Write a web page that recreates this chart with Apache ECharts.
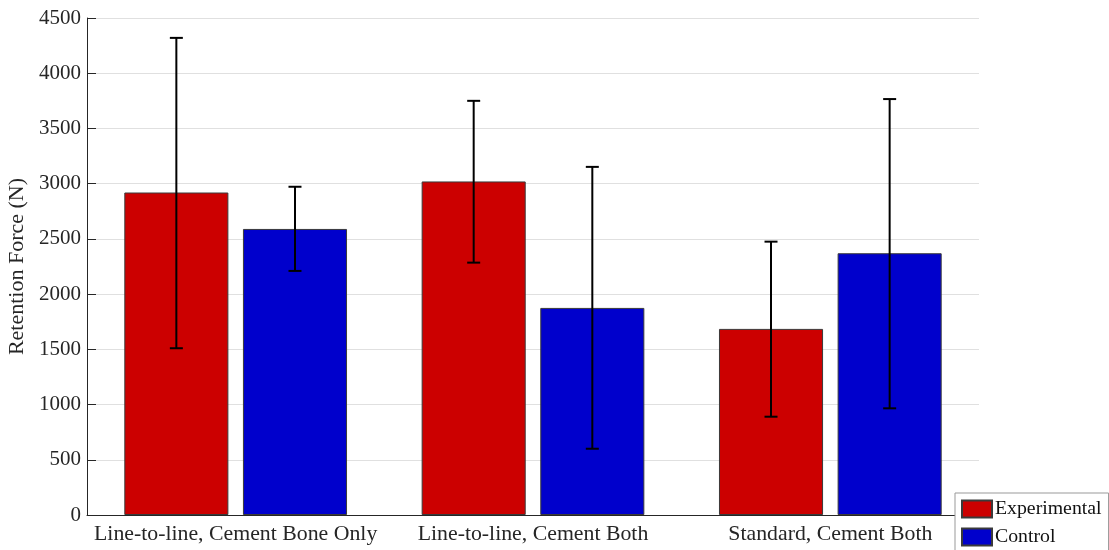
<!DOCTYPE html>
<html>
<head>
<meta charset="utf-8">
<script src="https://cdn.jsdelivr.net/npm/echarts@6/dist/echarts.min.js"></script>
<style>html,body{margin:0;padding:0;background:#fff}#c{width:1109px;height:550px}</style>
</head>
<body>
<div id="c"></div>
<script>
var categories = ['Line-to-line, Cement Bone Only', 'Line-to-line, Cement Both', 'Standard, Cement Both'];
var seriesNames = ['Experimental', 'Control'];
var experimental = [2920, 3020, 1685];
var control = [2590, 1875, 2370];
var experimentalLow = [1510, 2285, 890];
var experimentalHigh = [4320, 3750, 2475];
var controlLow = [2210, 600, 966];
var controlHigh = [2972, 3152, 3766];

var FONT = '"Liberation Serif", "Times New Roman", serif';
var BAR_W = 0.35, BAR_GAP = 0.14;

function errData(low, high) {
  return categories.map(function (c, i) { return [i, low[i], high[i]]; });
}
function errRender(sign) {
  return function (params, api) {
    var i = api.value(0);
    var bw = api.size([1, 0])[0];
    var barW = bw * BAR_W;
    var off = sign * (barW + barW * BAR_GAP) / 2;
    var lo = api.coord([i, api.value(1)]);
    var hi = api.coord([i, api.value(2)]);
    var x = lo[0] + off;
    var cap = 6.5;
    var st = { stroke: '#000', lineWidth: 2 };
    return {
      type: 'group',
      children: [
        { type: 'line', shape: { x1: x, y1: lo[1], x2: x, y2: hi[1] }, style: st },
        { type: 'line', shape: { x1: x - cap, y1: hi[1], x2: x + cap, y2: hi[1] }, style: st },
        { type: 'line', shape: { x1: x - cap, y1: lo[1], x2: x + cap, y2: lo[1] }, style: st }
      ]
    };
  };
}

var chart = echarts.init(document.getElementById('c'), null, { renderer: 'canvas' });
chart.setOption({
  animation: false,
  backgroundColor: '#fff',
  textStyle: { fontFamily: FONT },
  grid: { left: 87, right: 130, top: 18, bottom: 35, containLabel: false, outerBoundsMode: 'none' },
  legend: {
    orient: 'vertical',
    left: 955, top: 493,
    width: 151, height: 80,
    padding: [5, 7, 10, 6],
    itemGap: 6,
    itemWidth: 30, itemHeight: 17,
    icon: 'rect',
    borderColor: '#999', borderWidth: 1,
    backgroundColor: '#fff',
    data: seriesNames,
    textStyle: { fontFamily: FONT, fontSize: 19.8, color: '#111', lineHeight: 18, padding: [4, 0, 0, -2] }
  },
  xAxis: {
    type: 'category',
    data: categories,
    axisLine: { lineStyle: { color: '#262626', width: 1 } },
    axisTick: { inside: true, alignWithLabel: true, length: 8, lineStyle: { color: '#262626' } },
    axisLabel: { fontFamily: FONT, fontSize: 21.8, color: '#262626', margin: 8, interval: 0 },
    splitLine: { show: false }
  },
  yAxis: {
    type: 'value',
    min: 0, max: 4500, interval: 500,
    name: 'Retention Force (N)',
    nameLocation: 'middle',
    nameRotate: 90,
    nameGap: 56,
    nameTextStyle: { fontFamily: FONT, fontSize: 22, color: '#262626' },
    axisLine: { show: true, lineStyle: { color: '#262626', width: 1 } },
    axisTick: { show: true, inside: true, length: 9, lineStyle: { color: '#262626' } },
    axisLabel: { fontFamily: FONT, fontSize: 21, color: '#262626', margin: 6, formatter: function (v) { return String(v); } },
    splitLine: { show: true, lineStyle: { color: '#e0e0e0', width: 1 } }
  },
  series: [
    {
      name: seriesNames[0], type: 'bar', data: experimental,
      barWidth: (BAR_W * 100) + '%', barGap: (BAR_GAP * 100) + '%',
      itemStyle: { color: '#cc0000', borderColor: '#3a3a3a', borderWidth: 1 }
    },
    {
      name: seriesNames[1], type: 'bar', data: control,
      barWidth: (BAR_W * 100) + '%', barGap: (BAR_GAP * 100) + '%',
      itemStyle: { color: '#0000cc', borderColor: '#3a3a3a', borderWidth: 1 }
    },
    {
      type: 'custom', renderItem: errRender(-1), data: errData(experimentalLow, experimentalHigh),
      encode: { x: 0, y: [1, 2] }, z: 10, silent: true
    },
    {
      type: 'custom', renderItem: errRender(1), data: errData(controlLow, controlHigh),
      encode: { x: 0, y: [1, 2] }, z: 10, silent: true
    }
  ]
});
</script>
</body>
</html>
